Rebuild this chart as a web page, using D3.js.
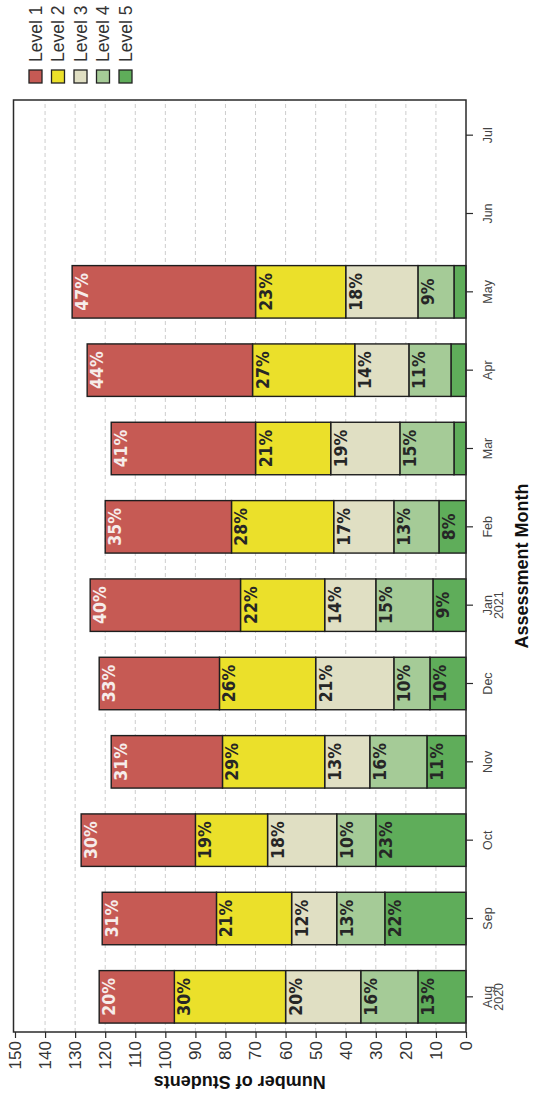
<!DOCTYPE html>
<html>
<head>
<meta charset="utf-8">
<script src="https://cdn.jsdelivr.net/npm/d3@7"></script>
<style>
  html, body { margin: 0; padding: 0; background: #fff; }
  svg { display: block; }
</style>
</head>
<body>
<script>
// Assessment results by month: number of students at each level
const months   = ["Aug", "Sep", "Oct", "Nov", "Dec", "Jan", "Feb", "Mar", "Apr", "May", "Jun", "Jul"];
const yearTags = ["2020", "", "", "", "", "2021", "", "", "", "", "", ""];
const levels   = ["Level 1", "Level 2", "Level 3", "Level 4", "Level 5"];
const level1 = [25, 38, 38, 37, 40, 50, 42, 48, 55, 61, null, null];
const level2 = [37, 25, 24, 34, 32, 28, 34, 25, 34, 30, null, null];
const level3 = [25, 15, 23, 15, 26, 17, 20, 23, 18, 24, null, null];
const level4 = [19, 16, 13, 19, 12, 19, 15, 18, 14, 12, null, null];
const level5 = [16, 27, 30, 13, 12, 11,  9,  4,  5,  4, null, null];
const valueTicks = [0, 10, 20, 30, 40, 50, 60, 70, 80, 90, 100, 110, 120, 130, 140, 150];
const levelColors = ["#c65a54", "#ebe02a", "#e0dfc3", "#a5cb97", "#5fad5a"];

const series = [level1, level2, level3, level4, level5];
const rows = months.map((m, i) => {
  const r = { month: m };
  levels.forEach((lv, k) => { r[lv] = series[k][i] || 0; });
  r.total = levels.reduce((s, lv) => s + r[lv], 0);
  return r;
});

// The chart is laid out upright in a 1095 x 538 frame, then turned a quarter
// turn counter-clockwise to fit the 538 x 1095 page.
const W = 1095, H = 538;
const svg = d3.select("body").append("svg").attr("width", H).attr("height", W);
const g = svg.append("g").attr("transform", `translate(0,${W}) rotate(-90)`);

const plot = { left: 63, right: 995, top: 13.5, bottom: 466 };

const x = d3.scaleBand().domain(months).range([59, 999]).paddingInner(0.33).paddingOuter(0.165);
const y = d3.scaleLinear().domain([0, 150]).range([466, 15]);
const color = d3.scaleOrdinal().domain(levels).range(levelColors);

// grid
g.append("g").selectAll("line")
  .data(valueTicks.filter(v => v > 0 && v < 150))
  .join("line")
  .attr("x1", plot.left).attr("x2", plot.right)
  .attr("y1", d => y(d)).attr("y2", d => y(d))
  .attr("stroke", "#cdcdcd").attr("stroke-width", 1).attr("stroke-dasharray", "4,3");

// stacked bars: Level 5 at the base, Level 1 on top
const stack = d3.stack().keys(levels.slice().reverse());
const stacked = stack(rows);

const layers = g.append("g").selectAll("g")
  .data(stacked)
  .join("g")
  .attr("fill", d => color(d.key));

layers.selectAll("rect")
  .data(d => d.map(p => ({ key: d.key, p })).filter(e => e.p[1] - e.p[0] > 0))
  .join("rect")
  .attr("x", e => x(e.p.data.month))
  .attr("width", x.bandwidth())
  .attr("y", e => y(e.p[1]))
  .attr("height", e => y(e.p[0]) - y(e.p[1]))
  .attr("stroke", "#1e1e1e").attr("stroke-width", 1.4);

// percentage labels near the top of each segment
const labelData = [];
stacked.forEach(layer => {
  layer.forEach(p => {
    const n = p[1] - p[0];
    if (n <= 0) return;
    const pct = Math.round(100 * n / p.data.total);
    if (pct < 5) return;
    labelData.push({ key: layer.key, month: p.data.month, top: p[1], pct });
  });
});

g.append("g").selectAll("text")
  .data(labelData)
  .join("text")
  .attr("x", d => x(d.month) + x.bandwidth() / 2)
  .attr("y", d => y(d.top) + 16)
  .attr("text-anchor", "middle")
  .attr("font-family", "'Liberation Sans Narrow', 'DejaVu Sans Condensed', sans-serif")
  .attr("font-weight", "bold")
  .attr("font-size", 17.5)
  .attr("fill", d => d.key === "Level 1" ? "#f6ecea" : "#262626")
  .text(d => d.pct + "%");

// frame
g.append("rect")
  .attr("x", plot.left).attr("y", plot.top)
  .attr("width", plot.right - plot.left).attr("height", plot.bottom - plot.top)
  .attr("fill", "none").attr("stroke", "#2a2a2a").attr("stroke-width", 1.5);

// value axis
const yAxis = g.append("g")
  .attr("transform", `translate(${plot.left},0)`)
  .call(d3.axisLeft(y).tickValues(valueTicks).tickSize(6).tickSizeOuter(0).tickPadding(3));
yAxis.select(".domain").remove();
yAxis.selectAll("line").attr("stroke", "#2a2a2a").attr("stroke-width", 1.2);
yAxis.selectAll("text")
  .attr("font-family", "'Liberation Sans Narrow', 'Liberation Sans', sans-serif")
  .attr("font-size", 17).attr("fill", "#333");

// month axis
const xAxis = g.append("g")
  .attr("transform", `translate(0,${plot.bottom})`)
  .call(d3.axisBottom(x).tickSize(7).tickSizeOuter(0).tickFormat(""));
xAxis.select(".domain").remove();
xAxis.selectAll("line").attr("stroke", "#2a2a2a").attr("stroke-width", 1.2);

const monthLabels = g.append("g").selectAll("text")
  .data(months)
  .join("text")
  .attr("x", d => x(d) + x.bandwidth() / 2)
  .attr("y", 492)
  .attr("text-anchor", "middle")
  .attr("font-family", "'Liberation Sans', Arial, sans-serif")
  .attr("font-size", 12.5)
  .attr("fill", "#444");
monthLabels.append("tspan").text(d => d);
monthLabels.append("tspan")
  .attr("x", d => x(d) + x.bandwidth() / 2)
  .attr("dy", 11)
  .text((d, i) => yearTags[i]);

// axis titles
g.append("text")
  .attr("x", (plot.left + plot.right) / 2)
  .attr("y", 528)
  .attr("text-anchor", "middle")
  .attr("font-family", "'Liberation Sans', Arial, sans-serif")
  .attr("font-weight", "bold").attr("font-size", 18).attr("fill", "#111")
  .text("Assessment Month");

g.append("text")
  .attr("transform", `translate(19,${(plot.top + plot.bottom) / 2}) rotate(-90)`)
  .attr("text-anchor", "middle")
  .attr("font-family", "'Liberation Sans', Arial, sans-serif")
  .attr("font-weight", "bold").attr("font-size", 18).attr("fill", "#111")
  .text("Number of Students");

// legend
const ly = d3.scalePoint().domain(levels).range([35.5, 125.5]);
const legend = g.append("g").selectAll("g")
  .data(levels)
  .join("g")
  .attr("transform", d => `translate(1012,${ly(d)})`);
legend.append("rect")
  .attr("x", 0).attr("y", -6.5).attr("width", 13).attr("height", 13)
  .attr("fill", d => color(d)).attr("stroke", "#222").attr("stroke-width", 1.3);
legend.append("text")
  .attr("x", 21).attr("dy", "0.36em")
  .attr("font-family", "'Liberation Sans', Arial, sans-serif")
  .attr("font-size", 17.5).attr("fill", "#333")
  .text(d => d);
</script>
</body>
</html>
